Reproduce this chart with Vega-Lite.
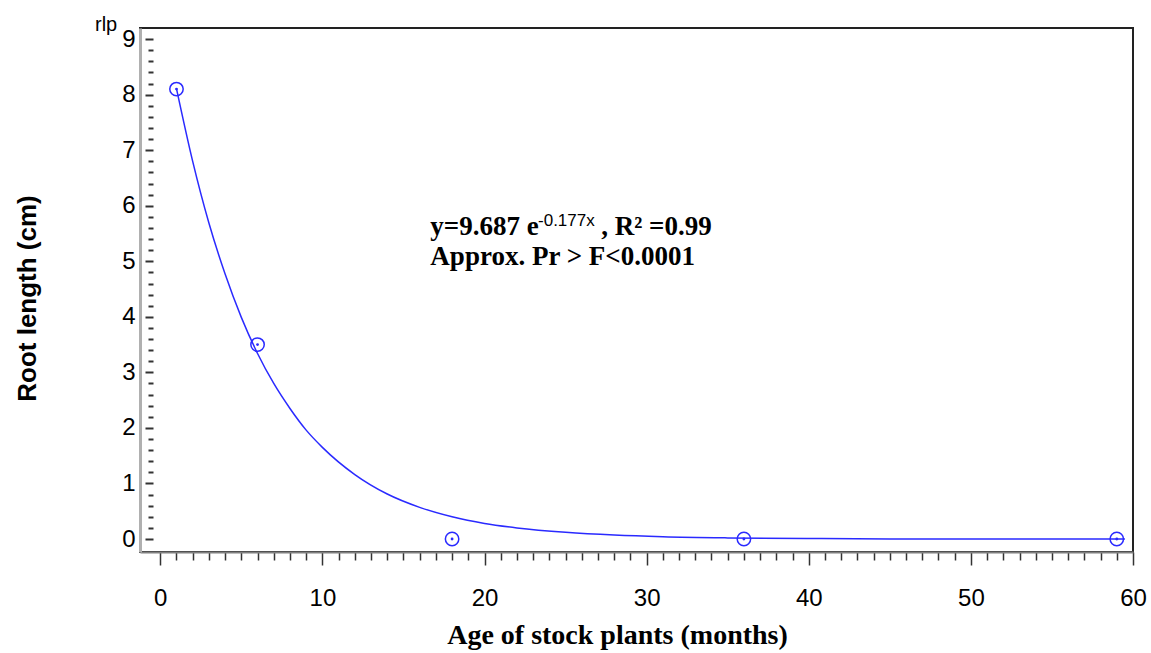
{
  "$schema": "https://vega.github.io/schema/vega-lite/v6.json",
  "width": 993,
  "height": 524,
  "autosize": {"type": "none"},
  "padding": {"left": 140, "top": 28, "right": 18, "bottom": 101},
  "background": "white",
  "config": {"view": {"stroke": "#222", "strokeWidth": 2}, "font": "Liberation Sans"},
  "title": {"text": "rlp", "anchor": "start", "frame": "group", "dx": -45, "dy": 24, "offset": 0, "baseline": "alphabetic", "fontSize": 20, "fontWeight": "normal", "font": "Liberation Sans", "color": "#000"},
  "datasets": {
    "obs": [
      {"x": 1, "y": 8.1},
      {"x": 6, "y": 3.5},
      {"x": 18, "y": 0},
      {"x": 36, "y": 0},
      {"x": 59, "y": 0}
    ],
    "fit": [
      {"x": 1, "y": 8.11}, {"x": 2, "y": 6.8}, {"x": 3, "y": 5.69}, {"x": 4, "y": 4.77},
      {"x": 5, "y": 3.99}, {"x": 6, "y": 3.34}, {"x": 7, "y": 2.8}, {"x": 8, "y": 2.35},
      {"x": 9, "y": 1.96}, {"x": 10, "y": 1.65}, {"x": 12, "y": 1.16}, {"x": 14, "y": 0.81},
      {"x": 16, "y": 0.57}, {"x": 18, "y": 0.4}, {"x": 20, "y": 0.28}, {"x": 22, "y": 0.2},
      {"x": 25, "y": 0.12}, {"x": 28, "y": 0.07}, {"x": 31, "y": 0.04}, {"x": 35, "y": 0.02},
      {"x": 40, "y": 0.01}, {"x": 45, "y": 0.0}, {"x": 50, "y": 0.0}, {"x": 55, "y": 0.0},
      {"x": 59.5, "y": 0.0}
    ],
    "notes": [
      {"part": "eq1", "x": 16.66, "y": 5.47, "t": "y=9.687 e"},
      {"part": "sup", "x": 23.3, "y": 5.64, "t": "-0.177x"},
      {"part": "eq2", "x": 27.2, "y": 5.47, "t": ", R² =0.99"},
      {"part": "eq3", "x": 16.66, "y": 4.93, "t": "Approx. Pr > F<0.0001"}
    ]
  },
  "encoding": {
    "x": {
      "field": "x", "type": "quantitative",
      "scale": {"domain": [-1.25, 60], "nice": false, "zero": false},
      "axis": {
        "values": [0,1,2,3,4,5,6,7,8,9,10,11,12,13,14,15,16,17,18,19,20,21,22,23,24,25,26,27,28,29,30,31,32,33,34,35,36,37,38,39,40,41,42,43,44,45,46,47,48,49,50,51,52,53,54,55,56,57,58,59,60],
        "labelExpr": "datum.value % 10 === 0 ? format(datum.value, 'd') : ''",
        "tickSize": {"condition": {"test": "datum.value % 10 === 0", "value": 13}, "value": 8},
        "tickColor": "#333", "tickWidth": 1.5,
        "domainColor": "#808080", "domainWidth": 2,
        "labelFont": "Liberation Sans", "labelFontSize": 24, "labelColor": "#000", "labelPadding": 21,
        "labelFlush": false, "labelOverlap": false,
        "grid": false,
        "title": "Age of stock plants (months)",
        "titleFont": "Liberation Serif", "titleFontSize": 28, "titleFontWeight": "bold", "titleColor": "#000",
        "titleX": 477, "titleY": 91, "titleBaseline": "alphabetic", "titleAlign": "center"
      }
    },
    "y": {
      "field": "y", "type": "quantitative",
      "scale": {"domain": [-0.234, 9.2], "nice": false, "zero": false},
      "axis": {
        "values": [0,0.2,0.4,0.6,0.8,1,1.2,1.4,1.6,1.8,2,2.2,2.4,2.6,2.8,3,3.2,3.4,3.6,3.8,4,4.2,4.4,4.6,4.8,5,5.2,5.4,5.6,5.8,6,6.2,6.4,6.6,6.8,7,7.2,7.4,7.6,7.8,8,8.2,8.4,8.6,8.8,9],
        "labelExpr": "abs(datum.value - round(datum.value)) < 0.001 ? format(datum.value, '.0f') : ''",
        "tickSize": -13,
        "tickDash": {"condition": {"test": "abs(datum.value - round(datum.value)) < 0.001", "value": [0, 5, 8]}, "value": [0, 8, 5]},
        "tickColor": "#333", "tickWidth": 2,
        "domainColor": "#b0b0b0", "domainWidth": 3,
        "labelFont": "Liberation Sans", "labelFontSize": 24, "labelColor": "#000", "labelPadding": 18,
        "labelFlush": false, "labelOverlap": false,
        "grid": false,
        "title": "Root length (cm)",
        "titleFont": "Liberation Sans", "titleFontSize": 26, "titleFontWeight": "bold", "titleColor": "#000",
        "titleX": -113, "titleY": 270, "titleAngle": -90, "titleBaseline": "middle", "titleAlign": "center"
      }
    }
  },
  "layer": [
    {
      "data": {"name": "fit"},
      "mark": {"type": "line", "color": "#2a2aff", "strokeWidth": 1.5, "interpolate": "monotone"}
    },
    {
      "data": {"name": "obs"},
      "mark": {"type": "point", "shape": "circle", "filled": false, "size": 180, "stroke": "#2a2aff", "strokeWidth": 1.5, "opacity": 1}
    },
    {
      "data": {"name": "obs"},
      "mark": {"type": "point", "shape": "circle", "filled": true, "size": 8, "color": "#2a2aff", "opacity": 1}
    },
    {
      "data": {"name": "notes"},
      "transform": [{"filter": "datum.part === 'eq1' || datum.part === 'eq2' || datum.part === 'eq3'"}],
      "mark": {"type": "text", "align": "left", "baseline": "alphabetic", "font": "Liberation Serif", "fontWeight": "bold", "fontSize": 27, "color": "#000"},
      "encoding": {"text": {"field": "t"}}
    },
    {
      "data": {"name": "notes"},
      "transform": [{"filter": "datum.part === 'sup'"}],
      "mark": {"type": "text", "align": "left", "baseline": "alphabetic", "font": "Liberation Sans", "fontSize": 17, "color": "#000"},
      "encoding": {"text": {"field": "t"}}
    }
  ]
}
